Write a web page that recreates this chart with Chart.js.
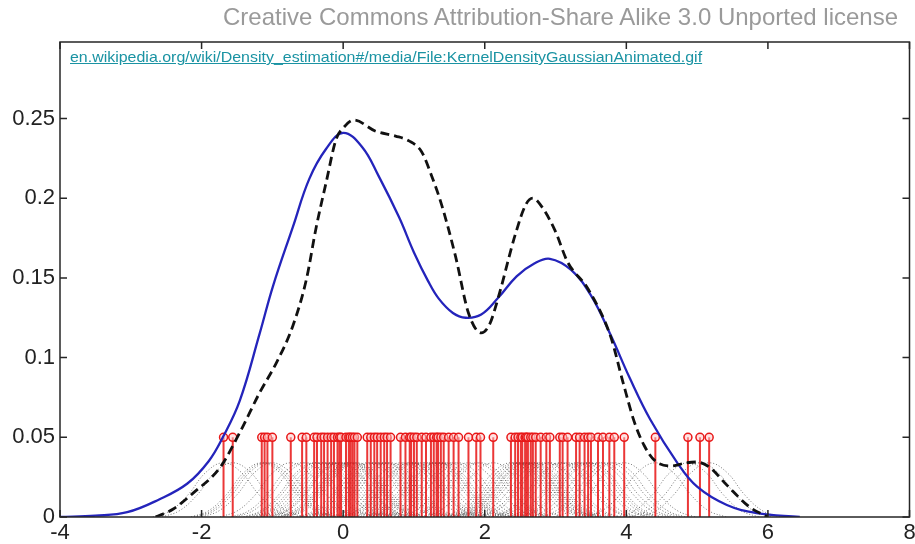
<!DOCTYPE html>
<html>
<head>
<meta charset="utf-8">
<script src="https://cdn.jsdelivr.net/npm/chart.js@4.4.1/dist/chart.umd.min.js"></script>
<style>
  html, body { margin: 0; padding: 0; background: #fff; }
  #wrap { position: relative; width: 915px; height: 544px; }
  #lic { position: absolute; right: 17px; top: 3px; font: 24px "Liberation Sans", Arial, sans-serif; color: #9a9a9a; white-space: nowrap; }
  #src { position: absolute; left: 70px; top: 49px; font: 14.5px "Liberation Sans", Arial, sans-serif; color: #1a93a3; text-decoration: underline; white-space: nowrap; transform: scaleX(1.1); transform-origin: 0 50%; }
</style>
</head>
<body>
<div id="wrap">
  <canvas id="kde" width="915" height="544"></canvas>
  <div id="lic">Creative Commons Attribution-Share Alike 3.0 Unported license</div>
  <a id="src" href="#">en.wikipedia.org/wiki/Density_estimation#/media/File:KernelDensityGaussianAnimated.gif</a>
</div>
<script>
// axis ticks
const xTicks = [-4, -2, 0, 2, 4, 6, 8];
const yTicks = [0, 0.05, 0.1, 0.15, 0.2, 0.25];

// blue solid curve (kernel density estimate)
const blueX = [-4.0, -3.5, -3.05, -2.6, -2.2, -1.9, -1.7, -1.46, -1.18, -0.99, -0.71, -0.48, -0.24, 0.0, 0.27, 0.5, 0.79, 1.0, 1.2, 1.35, 1.55, 1.73, 1.95, 2.19, 2.45, 2.7, 2.92, 3.22, 3.5, 3.78, 4.05, 4.34, 4.72, 5.0, 5.42, 5.84, 6.45];
const blueY = [0.0, 0.0008, 0.003, 0.011, 0.021, 0.035, 0.050, 0.073, 0.115, 0.145, 0.182, 0.212, 0.231, 0.241, 0.232, 0.214, 0.188, 0.166, 0.148, 0.137, 0.128, 0.125, 0.127, 0.1375, 0.151, 0.159, 0.162, 0.155, 0.139, 0.114, 0.087, 0.061, 0.034, 0.019, 0.0075, 0.0025, 0.0];

// black dashed curve (true density)
const blackX = [-2.65, -2.4, -2.12, -1.74, -1.46, -1.18, -0.94, -0.71, -0.52, -0.38, -0.24, -0.1, 0.0, 0.15, 0.46, 0.74, 0.93, 1.11, 1.25, 1.39, 1.59, 1.77, 1.95, 2.07, 2.19, 2.43, 2.58, 2.68, 2.8, 2.99, 3.17, 3.46, 3.78, 3.95, 4.11, 4.25, 4.4, 4.62, 4.85, 5.0, 5.18, 5.42, 5.75, 6.0];
const blackY = [0.0, 0.005, 0.015, 0.031, 0.053, 0.078, 0.097, 0.12, 0.149, 0.182, 0.21, 0.237, 0.244, 0.249, 0.242, 0.239, 0.236, 0.229, 0.214, 0.196, 0.163, 0.128, 0.1155, 0.121, 0.1375, 0.177, 0.196, 0.200, 0.195, 0.180, 0.160, 0.143, 0.113, 0.085, 0.060, 0.045, 0.0355, 0.032, 0.034, 0.0345, 0.031, 0.020, 0.006, 0.0];

// sample points (red stems)
const samples = [-1.69, -1.56, -1.15, -1.11, -1.07, -1.0, -0.74, -0.58, -0.52, -0.41, -0.37, -0.31, -0.27, -0.22, -0.17, -0.13, -0.08, -0.05, -0.03, 0.04, 0.08, 0.10, 0.13, 0.16, 0.2, 0.34, 0.39, 0.44, 0.48, 0.53, 0.58, 0.62, 0.67, 0.81, 0.88, 0.94, 0.96, 1.0, 1.04, 1.11, 1.17, 1.24, 1.28, 1.32, 1.34, 1.38, 1.42, 1.49, 1.56, 1.63, 1.77, 1.88, 1.94, 2.12, 2.37, 2.43, 2.47, 2.51, 2.53, 2.57, 2.59, 2.61, 2.65, 2.68, 2.72, 2.79, 2.87, 2.92, 3.06, 3.1, 3.17, 3.29, 3.34, 3.41, 3.46, 3.5, 3.6, 3.67, 3.76, 3.83, 3.97, 4.41, 4.87, 5.04, 5.17];
const stemHeight = 0.05;

// one gray dotted kernel bump: offsets from the sample and heights
const kernelDx = [-1.0, -0.75, -0.5, -0.25, 0, 0.25, 0.5, 0.75, 1.0];
const kernelH = [0.0, 0.004, 0.014, 0.028, 0.034, 0.028, 0.014, 0.004, 0.0];

const zip = (xs, ys) => xs.map((x, i) => ({ x: x, y: ys[i] }));

const stemData = [];
samples.forEach(s => {
  stemData.push({ x: s, y: 0 }, { x: s, y: stemHeight }, { x: s, y: null });
});
const kernelData = [];
samples.forEach(s => {
  kernelDx.forEach((d, i) => kernelData.push({ x: s + d, y: kernelH[i] }));
  kernelData.push({ x: s, y: null });
});

// box frame with inward ticks, matlab style
const framePlugin = {
  id: 'frame',
  afterDraw(chart) {
    const { ctx, chartArea: a, scales } = chart;
    const len = 7;
    ctx.save();
    ctx.strokeStyle = '#262626';
    ctx.lineWidth = 1.5;
    ctx.strokeRect(a.left, a.top, a.right - a.left, a.bottom - a.top);
    ctx.beginPath();
    scales.x.ticks.forEach(t => {
      const px = scales.x.getPixelForValue(t.value);
      ctx.moveTo(px, a.bottom); ctx.lineTo(px, a.bottom - len);
      ctx.moveTo(px, a.top); ctx.lineTo(px, a.top + len);
    });
    scales.y.ticks.forEach(t => {
      const py = scales.y.getPixelForValue(t.value);
      ctx.moveTo(a.left, py); ctx.lineTo(a.left + len, py);
      ctx.moveTo(a.right, py); ctx.lineTo(a.right - len, py);
    });
    ctx.stroke();
    ctx.restore();
  }
};

const tickFont = { family: '"Liberation Sans", Arial, sans-serif', size: 22 };

new Chart(document.getElementById('kde'), {
  type: 'scatter',
  data: {
    datasets: [
      {
        type: 'line', label: 'true density', data: zip(blackX, blackY),
        borderColor: '#111', borderWidth: 2.8, borderDash: [9, 5],
        pointRadius: 0, fill: false, cubicInterpolationMode: 'monotone'
      },
      {
        type: 'line', label: 'kde', data: zip(blueX, blueY),
        borderColor: '#2424bb', borderWidth: 2.3,
        pointRadius: 0, fill: false, tension: 0.4
      },
      {
        label: 'markers', data: samples.map(s => ({ x: s, y: stemHeight })),
        pointStyle: 'circle', pointRadius: 4, borderWidth: 1.5,
        borderColor: '#e81818', backgroundColor: 'rgba(255,200,200,0.5)'
      },
      {
        type: 'line', label: 'stems', data: stemData, spanGaps: false,
        borderColor: 'rgba(232,20,20,0.85)', borderWidth: 2, pointRadius: 0
      },
      {
        type: 'line', label: 'kernels', data: kernelData, spanGaps: false,
        borderColor: 'rgba(85,85,85,0.8)', borderWidth: 1, borderDash: [1, 2],
        pointRadius: 0, tension: 0.4
      }
    ]
  },
  options: {
    responsive: false,
    animation: false,
    devicePixelRatio: 1,
    layout: { padding: { top: 42, right: 3, left: 0, bottom: 0 } },
    plugins: { legend: { display: false }, tooltip: { enabled: false } },
    scales: {
      x: {
        type: 'linear', min: -4, max: 8,
        afterBuildTicks: s => { s.ticks = xTicks.map(v => ({ value: v })); },
        afterFit: s => { s.height = 27; s.paddingLeft = 0; s.paddingRight = 0; },
        grid: { display: false, drawTicks: false },
        border: { display: false },
        ticks: { font: tickFont, color: '#222', padding: 3, maxRotation: 0, callback: v => String(v) }
      },
      y: {
        type: 'linear', min: 0, max: 0.298,
        afterBuildTicks: s => { s.ticks = yTicks.map(v => ({ value: v })); },
        afterFit: s => { s.width = 60; s.paddingTop = 0; s.paddingBottom = 0; },
        grid: { display: false, drawTicks: false },
        border: { display: false },
        ticks: { font: tickFont, color: '#222', padding: 5, callback: v => String(v) }
      }
    }
  },
  plugins: [framePlugin]
});
</script>
</body>
</html>
